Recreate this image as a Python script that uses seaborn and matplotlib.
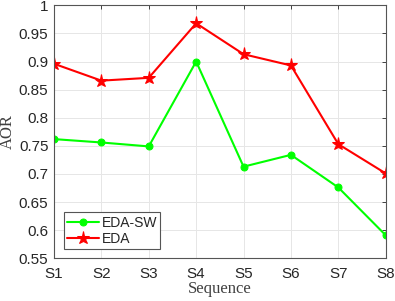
import matplotlib
matplotlib.use("Agg")
import matplotlib.pyplot as plt
import seaborn as sns
import pandas as pd

sequences = ["S1", "S2", "S3", "S4", "S5", "S6", "S7", "S8"]
eda_sw = [0.762, 0.756, 0.749, 0.900, 0.713, 0.734, 0.676, 0.591]
eda = [0.896, 0.866, 0.871, 0.968, 0.913, 0.893, 0.753, 0.701]
yticks = [0.55, 0.6, 0.65, 0.7, 0.75, 0.8, 0.85, 0.9, 0.95, 1.0]
ytick_labels = ["0.55", "0.6", "0.65", "0.7", "0.75", "0.8", "0.85", "0.9", "0.95", "1"]

sns.set_style("white")
plt.rcParams['font.family'] = ['Liberation Sans', 'DejaVu Sans']

df = pd.DataFrame({"Sequence": sequences, "idx": range(len(sequences)),
                   "EDA-SW": eda_sw, "EDA": eda})

fig = plt.figure(figsize=(3.95, 3.01), dpi=100)
ax = fig.add_axes([54/395, 1 - 258.3/301, (385.7-54)/395, (258.3-5.3)/301])

sns.lineplot(data=df, x="idx", y="EDA-SW", ax=ax, color="#00ff00", lw=1.5,
             marker="o", markersize=5, markeredgecolor="#00ff00", label="EDA-SW")
sns.lineplot(data=df, x="idx", y="EDA", ax=ax, color="#ff0000", lw=1.5,
             marker="*", markersize=9.5, markeredgecolor="#ff0000", label="EDA")

ax.set_xlim(0, len(sequences) - 1)
ax.set_ylim(0.55, 1.0)
ax.set_xticks(range(len(sequences)))
ax.set_xticklabels(sequences)
ax.set_yticks(yticks)
ax.set_yticklabels(ytick_labels)
ax.tick_params(direction="in", top=True, right=True, labelsize=11, colors="#262626",
               length=3, width=0.6)
ax.tick_params(axis="x", pad=6)
ax.tick_params(axis="y", pad=4)
for lbl in ax.get_xticklabels() + ax.get_yticklabels():
    lbl.set_color("#262626")
ax.grid(True, color="#e6e6e6", lw=0.7)
for s in ax.spines.values():
    s.set_color("#555555")
    s.set_linewidth(0.8)
    s.set_visible(True)

ax.set_xlabel("Sequence", family=["Liberation Serif"], fontsize=12, color="#404040", labelpad=0)
ax.set_ylabel("AOR", family=["Liberation Serif"], fontsize=12, color="#404040", labelpad=2)

leg = ax.legend(loc="lower left", bbox_to_anchor=(0.03, 0.035), fontsize=10,
                frameon=True, fancybox=False, edgecolor="#555555", framealpha=1,
                handlelength=2.3, handletextpad=0.15, borderpad=0.25, labelspacing=0.15,
                borderaxespad=0)
leg.get_frame().set_linewidth(0.8)

fig.savefig("out.png", dpi=100)
